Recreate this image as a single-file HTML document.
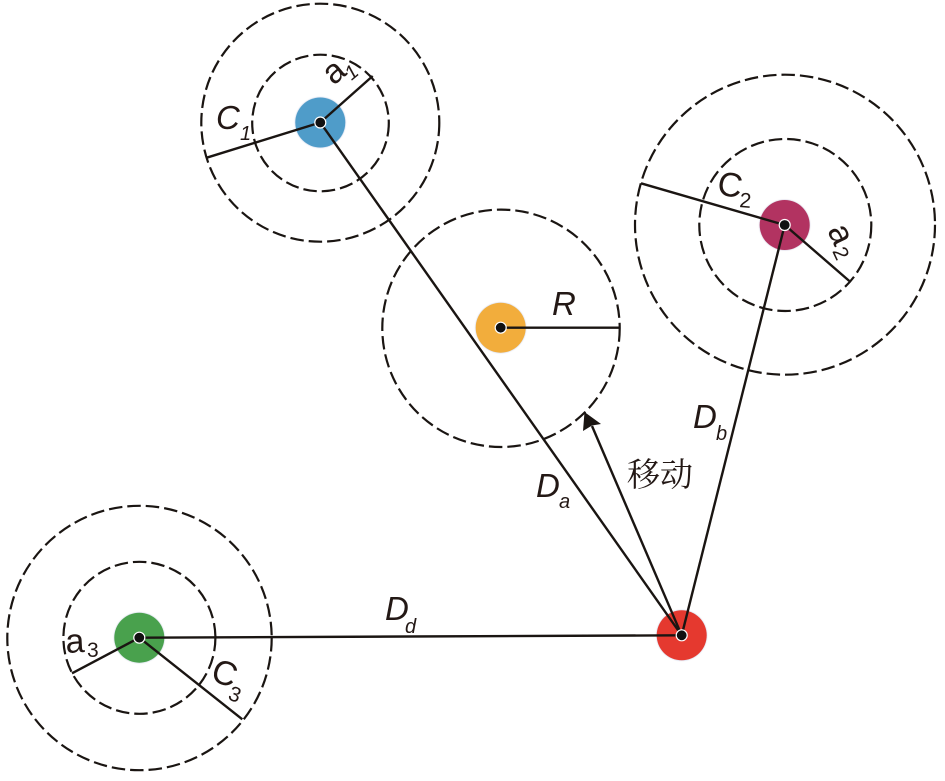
<!DOCTYPE html>
<html>
<head>
<meta charset="utf-8">
<style>
html,body{margin:0;padding:0;background:#fff;width:945px;height:781px;overflow:hidden}
svg{display:block;filter:blur(0.35px)}
text{font-family:"Liberation Sans","Noto Sans CJK SC",sans-serif;fill:#231815}
.m{font-size:33px;font-style:italic}
.u{font-size:34px}
.s{font-size:20px;font-style:italic}
.t{font-size:21px}
</style>
</head>
<body>
<svg width="945" height="781" viewBox="0 0 945 781" xmlns="http://www.w3.org/2000/svg">
<defs>
<filter id="b" x="-20%" y="-20%" width="140%" height="140%"><feGaussianBlur stdDeviation="0.5"/></filter>
</defs>
<!-- dashed circles -->
<g fill="none" stroke="#1a1512" stroke-width="2.2" stroke-dasharray="13.5 5">
<circle cx="320.3" cy="122.7" r="119"/>
<circle cx="320.5" cy="123" r="68.3"/>
<circle cx="785" cy="224.7" r="150"/>
<circle cx="785.3" cy="225" r="86"/>
<circle cx="139.5" cy="638" r="132.2"/>
<circle cx="139.4" cy="637.8" r="76"/>
<circle cx="501" cy="328.3" r="118.7"/>
</g>
<!-- nodes -->
<g>
<circle cx="320.3" cy="122.5" r="25.5" fill="#cfd8ec" filter="url(#b)"/>
<circle cx="320.3" cy="122.5" r="25" fill="#4f9cc9"/>
<circle cx="784.7" cy="225" r="25.5" fill="#d8d4e4" filter="url(#b)"/>
<circle cx="784.7" cy="225" r="25" fill="#b23361"/>
<circle cx="139.3" cy="637.7" r="25.5" fill="#d3dce6" filter="url(#b)"/>
<circle cx="139.3" cy="637.7" r="25" fill="#49a14d"/>
<circle cx="681.7" cy="635.3" r="25.5" fill="#d6dcec" filter="url(#b)"/>
<circle cx="681.7" cy="635.3" r="25" fill="#e5392f"/>
<circle cx="500.7" cy="327.7" r="25.5" fill="#d6dcec" filter="url(#b)"/>
<circle cx="500.7" cy="327.7" r="25" fill="#f2ad3c"/>
</g>
<!-- connectors -->
<g fill="none" stroke="#1a1512" stroke-width="2.4">
<line x1="320.3" y1="122.5" x2="206.7" y2="157.7"/>
<line x1="320.3" y1="122.5" x2="372.7" y2="76"/>
<line x1="320.3" y1="122.5" x2="681.7" y2="635.3"/>
<line x1="784.7" y1="225" x2="641" y2="183.3"/>
<line x1="784.7" y1="225" x2="849.3" y2="281"/>
<line x1="784.7" y1="225" x2="681.7" y2="635.3"/>
<line x1="139.3" y1="637.7" x2="72" y2="673.3"/>
<line x1="139.3" y1="637.7" x2="242.3" y2="719.3"/>
<line x1="139.3" y1="637.7" x2="681.7" y2="635.3"/>
<line x1="500.7" y1="327.7" x2="620" y2="327.7"/>
<line x1="681.7" y1="635.3" x2="592" y2="426"/>
</g>
<polygon points="584.5,412 583,431 592,425.5 601,424" fill="#1a1512"/>
<!-- center dots -->
<g fill="#111" stroke="#fff" stroke-width="1.2">
<circle cx="320.3" cy="122.5" r="5.5"/>
<circle cx="784.7" cy="225" r="5.5"/>
<circle cx="139.3" cy="637.7" r="5.5"/>
<circle cx="681.7" cy="635.3" r="5.5"/>
<circle cx="500.7" cy="327.7" r="5.5"/>
</g>
<!-- labels -->
<text class="m" x="216" y="129">C</text>
<text class="s" x="240" y="140">1</text>
<text class="u" transform="translate(333.5,86) rotate(-40)">a</text>
<text class="s" transform="translate(351.5,81) rotate(-40)">1</text>
<text class="u" transform="translate(716,194) rotate(10)">C</text>
<text class="t" transform="translate(739,207) rotate(5)">2</text>
<text class="u" transform="translate(827,230.2) rotate(65)">a</text>
<text class="t" transform="translate(832,251) rotate(65)">2</text>
<text class="u" transform="rotate(-3 66 653) translate(66,653)">a</text>
<text class="t" x="87" y="657">3</text>
<text class="u" transform="translate(209.3,679.7) rotate(20)">C</text>
<text class="t" transform="translate(227,699) rotate(20)">3</text>
<text class="m" x="552" y="315">R</text>
<text class="m" x="536" y="497">D</text>
<text class="s" x="559" y="508">a</text>
<text class="m" x="693" y="428">D</text>
<text class="s" x="716" y="440">b</text>
<text class="m" x="385" y="620">D</text>
<text class="s" x="405" y="633">d</text>
<text x="627" y="486" style="font-family:'Liberation Serif','Noto Serif CJK SC',serif;font-size:33px">移动</text>
</svg>
</body>
</html>
